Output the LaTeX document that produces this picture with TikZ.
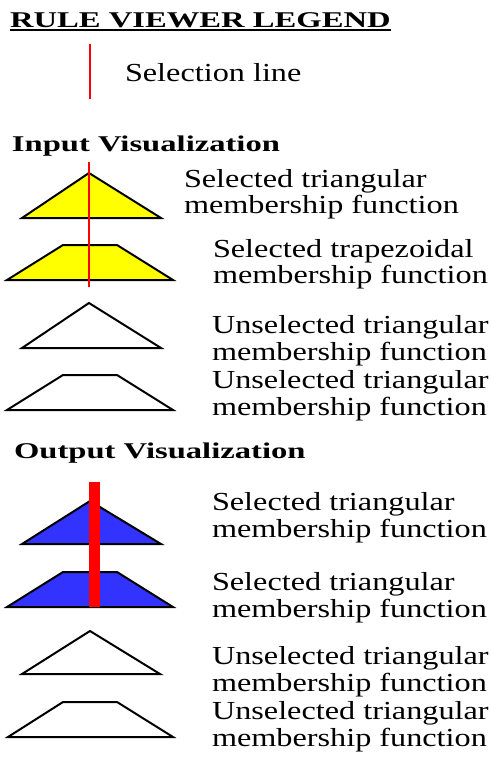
\documentclass[tikz,border=0pt]{standalone}
\usepackage{fontspec}
\setmainfont{Liberation Serif}
\usepackage{graphicx}
\definecolor{selyellow}{RGB}{255,255,0}
\definecolor{selblue}{RGB}{51,51,255}
\definecolor{selred}{RGB}{255,0,0}
% wide-set body text and headings
\newcommand\bodytxt[1]{\scalebox{1.24}[1]{\fontsize{26}{28}\selectfont #1}}
\newcommand\headtxt[1]{\scalebox{1.45}[1]{\fontsize{22.5}{25}\selectfont\bfseries #1}}
\begin{document}
\begin{tikzpicture}[x=1pt,y=-1pt,
  lbl/.style={anchor=base west,inner sep=0pt,outer sep=0pt},
  mf/.style={draw=black,line width=2pt,line join=miter},
  thinsel/.style={draw=selred,line width=2.6pt},
  thicksel/.style={fill=selred,draw=none}]
\useasboundingbox (0,0) rectangle (492,760);

% title
\node[lbl] (title) at (10,27.3) {\headtxt{RULE VIEWER LEGEND}};
\draw[line width=2pt] ([yshift=-3.2pt]title.base west) -- ([yshift=-3.2pt]title.base east);

% selection line sample
\coordinate (selA) at (90,44);
\coordinate (selB) at (90,99);
\draw[thinsel] (selA) -- (selB);
\node[lbl] (seltxt) at (125,81.5) {\bodytxt{Selection line}};

% input section
\node[lbl] (inhead) at (12,151.7) {\headtxt{Input Visualization}};
\path[mf,fill=selyellow] (22,218) -- (89,173) -- (161,218) -- cycle;
\path[mf,fill=selyellow] (7,280) -- (63,245) -- (117,245) -- (173,280) -- cycle;
\coordinate (inA) at (89,162);
\coordinate (inB) at (89,287);
\draw[thinsel] (inA) -- (inB);
\path[mf] (22,348) -- (89,303) -- (161,348) -- cycle;
\path[mf] (7,410) -- (63,375) -- (117,375) -- (173,410) -- cycle;

\node[lbl] (in1a) at (184,187) {\bodytxt{Selected triangular}};
\node[lbl] (in1b) at (184,213) {\bodytxt{membership function}};
\node[lbl] (in2a) at (213,257) {\bodytxt{Selected trapezoidal}};
\node[lbl] (in2b) at (213,283) {\bodytxt{membership function}};
\node[lbl] (in3a) at (212,333) {\bodytxt{Unselected triangular}};
\node[lbl] (in3b) at (212,360) {\bodytxt{membership function}};
\node[lbl] (in4a) at (212,388) {\bodytxt{Unselected triangular}};
\node[lbl] (in4b) at (212,415) {\bodytxt{membership function}};

% output section
\node[lbl] (outhead) at (14,458) {\headtxt{Output Visualization}};
\path[mf,fill=selblue] (22,544) -- (90,501) -- (161,544) -- cycle;
\path[mf,fill=selblue] (7,607) -- (63,572) -- (117,572) -- (173,607) -- cycle;
\path[thicksel] (89,482) rectangle (100,607);
\path[mf] (22,674) -- (90,631) -- (160,674) -- cycle;
\path[mf] (8,737) -- (63,702) -- (117,702) -- (173,737) -- cycle;

\node[lbl] (out1a) at (212,510) {\bodytxt{Selected triangular}};
\node[lbl] (out1b) at (212,537) {\bodytxt{membership function}};
\node[lbl] (out2a) at (212,590) {\bodytxt{Selected triangular}};
\node[lbl] (out2b) at (212,617) {\bodytxt{membership function}};
\node[lbl] (out3a) at (212,664) {\bodytxt{Unselected triangular}};
\node[lbl] (out3b) at (212,691) {\bodytxt{membership function}};
\node[lbl] (out4a) at (212,719) {\bodytxt{Unselected triangular}};
\node[lbl] (out4b) at (212,746) {\bodytxt{membership function}};
\end{tikzpicture}
\end{document}
